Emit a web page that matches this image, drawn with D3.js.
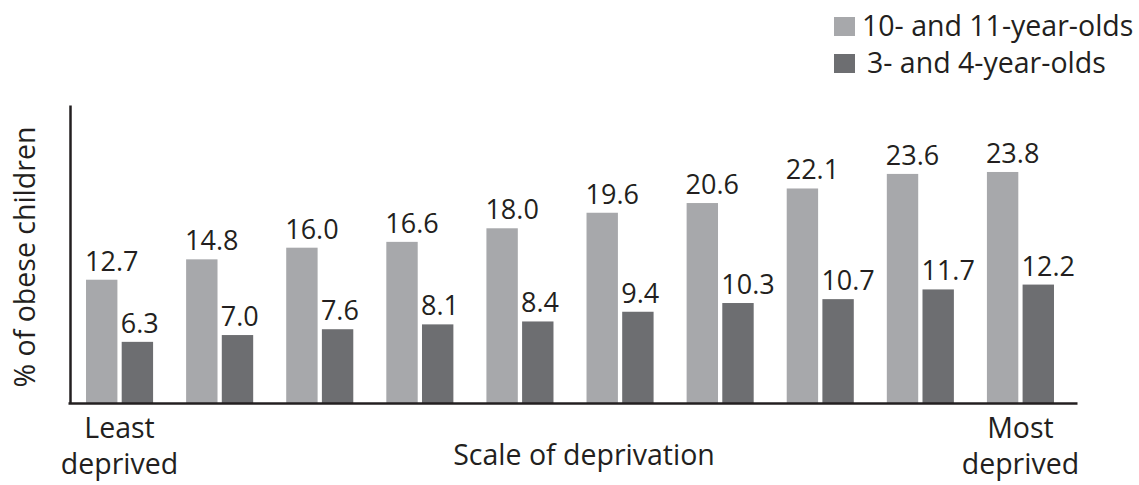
<!DOCTYPE html>
<html>
<head>
<meta charset="utf-8">
<script src="https://cdn.jsdelivr.net/npm/d3@7"></script>
<style>
  html, body { margin: 0; padding: 0; background: #fff; }
  svg { display: block; font-family: "Open Sans", "DejaVu Sans", sans-serif; }
</style>
</head>
<body>
<div id="chart"></div>
<script>
// deprivation deciles, least -> most deprived
const categories = ['1', '2', '3', '4', '5', '6', '7', '8', '9', '10'];
const seriesNames = ['10- and 11-year-olds', '3- and 4-year-olds'];
const older = [12.7, 14.8, 16.0, 16.6, 18.0, 19.6, 20.6, 22.1, 23.6, 23.8];
const younger = [6.3, 7.0, 7.6, 8.1, 8.4, 9.4, 10.3, 10.7, 11.7, 12.2];
const colors = ['#a7a8ab', '#6d6e71'];

const W = 1139, H = 485;
const m = { t: 105, r: 69, b: 82, l: 70 };
const ink = '#231f20';
const fs = 28.5;

const svg = d3.select('#chart').append('svg')
  .attr('width', W)
  .attr('height', H);

const x0 = d3.scaleBand()
  .domain(categories)
  .range([m.l, W - m.r])
  .paddingInner(0.33)
  .paddingOuter(0.16);

const x1 = d3.scaleBand()
  .domain([0, 1])
  .range([0, x0.bandwidth()])
  .paddingInner(0.12);

const y = d3.scaleLinear()
  .domain([0, 30.7])
  .range([H - m.b, m.t]);

const rows = categories.map((c, i) => ({ cat: c, vals: [older[i], younger[i]] }));

// bars
const groups = svg.append('g').selectAll('g')
  .data(rows)
  .join('g')
  .attr('transform', d => `translate(${x0(d.cat)},0)`);

groups.selectAll('rect')
  .data(d => d.vals.map((v, k) => ({ v, k })))
  .join('rect')
  .attr('x', d => x1(d.k))
  .attr('y', d => y(d.v))
  .attr('width', x1.bandwidth())
  .attr('height', d => y(0) - y(d.v))
  .attr('fill', d => colors[d.k]);

groups.selectAll('text')
  .data(d => d.vals.map((v, k) => ({ v, k })))
  .join('text')
  .attr('x', d => x1(d.k) - 1)
  .attr('y', d => y(d.v) - 9)
  .attr('font-size', 27)
  .attr('fill', ink)
  .text(d => d.v.toFixed(1));

// axes (no ticks, just the lines)
svg.append('g')
  .attr('transform', `translate(0,${y(0)})`)
  .call(d3.axisBottom(d3.scaleLinear().range([m.l - 2, W - 62])).tickValues([]).tickSizeOuter(0))
  .select('.domain').attr('stroke', ink).attr('stroke-width', 2.5);

svg.append('g')
  .attr('transform', `translate(${m.l},0)`)
  .call(d3.axisLeft(y).tickValues([]).tickSizeOuter(0))
  .select('.domain').attr('stroke', ink).attr('stroke-width', 2.5);

// axis titles
svg.append('text')
  .attr('transform', `translate(35,${(y(0) + m.t) / 2 + 3}) rotate(-90)`)
  .attr('text-anchor', 'middle')
  .attr('font-size', fs)
  .attr('fill', ink)
  .text('% of obese children');

svg.append('text')
  .attr('x', 584)
  .attr('y', 465)
  .attr('text-anchor', 'middle')
  .attr('font-size', fs)
  .attr('fill', ink)
  .text('Scale of deprivation');

const ends = [
  { cat: categories[0], lines: ['Least', 'deprived'] },
  { cat: categories[categories.length - 1], lines: ['Most', 'deprived'] }
];
ends.forEach(e => {
  const t = svg.append('text')
    .attr('text-anchor', 'middle')
    .attr('font-size', fs)
    .attr('fill', ink);
  e.lines.forEach((ln, i) => {
    t.append('tspan')
      .attr('x', x0(e.cat) + x0.bandwidth() / 2)
      .attr('y', 438 + i * 36)
      .text(ln);
  });
});

// legend
const legend = svg.append('g').attr('transform', 'translate(834,17)');
seriesNames.forEach((s, i) => {
  const g = legend.append('g').attr('transform', `translate(0,${i * 37})`);
  g.append('rect').attr('width', 21).attr('height', 19).attr('fill', colors[i]);
  g.append('text')
    .attr('x', i === 0 ? 28 : 33)
    .attr('y', 19)
    .attr('font-size', fs)
    .attr('fill', ink)
    .text(s);
});
</script>
</body>
</html>
